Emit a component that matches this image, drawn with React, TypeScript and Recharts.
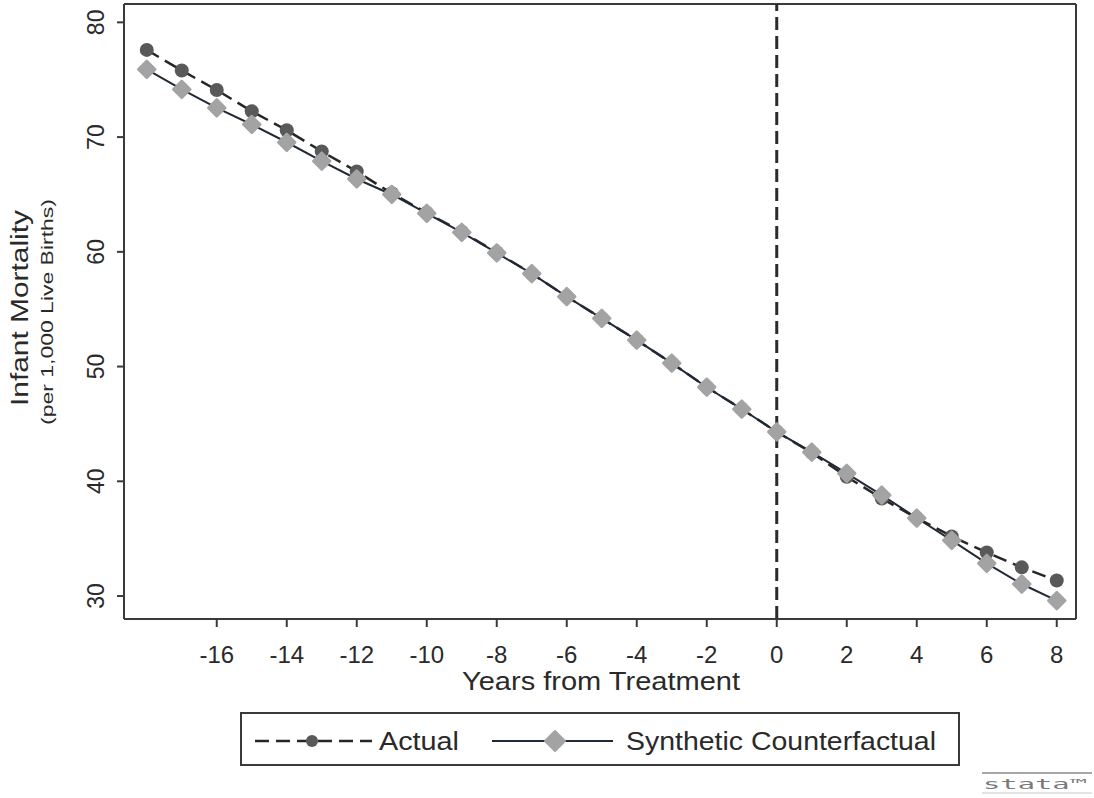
import React from "react";
import {
  LineChart,
  Line,
  XAxis,
  YAxis,
  ReferenceLine,
  Label,
} from "recharts";

// Years relative to treatment
const years: number[] = [
  -18, -17, -16, -15, -14, -13, -12, -11, -10, -9, -8, -7, -6, -5, -4, -3, -2,
  -1, 0, 1, 2, 3, 4, 5, 6, 7, 8,
];

// Infant mortality per 1,000 live births, observed
const actual: number[] = [
  77.6, 75.8, 74.1, 72.25, 70.6, 68.75, 67.0, 65.1, 63.4, 61.75, 59.95, 58.1,
  56.1, 54.2, 52.3, 50.3, 48.2, 46.3, 44.3, 42.5, 40.4, 38.5, 36.8, 35.2, 33.8,
  32.5, 31.35,
];

// Synthetic control estimate
const synthetic: number[] = [
  75.9, 74.15, 72.55, 71.1, 69.55, 67.9, 66.35, 65.0, 63.35, 61.7, 59.9, 58.1,
  56.1, 54.2, 52.3, 50.3, 48.2, 46.3, 44.3, 42.55, 40.7, 38.8, 36.8, 34.85,
  32.85, 31.05, 29.6,
];

const xTicks: number[] = [-16, -14, -12, -10, -8, -6, -4, -2, 0, 2, 4, 6, 8];
const yTicks: number[] = [30, 40, 50, 60, 70, 80];

const data = years.map((year, i) => ({
  year,
  actual: actual[i],
  synthetic: synthetic[i],
}));

const FONT = "'Liberation Sans', Arial, sans-serif";
const TEXT = "#2a2a2a";
const FRAME = "#3a3a3a";
const ACTUAL_DOT = "#595959";
const ACTUAL_LINE = "#262626";
const SYNTH_DOT = "#a3a3a3";
const SYNTH_LINE = "#1f2a36";

const Diamond = (props: any) => {
  const { cx, cy } = props;
  if (cx == null || cy == null) return null;
  const r = 8.5;
  return (
    <polygon
      points={`${cx},${cy - r} ${cx + r},${cy} ${cx},${cy + r} ${cx - r},${cy}`}
      fill={SYNTH_DOT}
      stroke={SYNTH_DOT}
      strokeWidth={2.5}
      strokeLinejoin="round"
    />
  );
};

const Circle = (props: any) => {
  const { cx, cy } = props;
  if (cx == null || cy == null) return null;
  return <circle cx={cx} cy={cy} r={7} fill={ACTUAL_DOT} />;
};

const YTick = (props: any) => {
  const { y, payload } = props;
  return (
    <text
      x={104}
      y={y}
      transform={`rotate(-90, 104, ${y})`}
      textAnchor="middle"
      fontFamily={FONT}
      fontSize={23}
      fill={TEXT}
    >
      {payload.value}
    </text>
  );
};

const XTick = (props: any) => {
  const { x, payload } = props;
  return (
    <text
      x={x}
      y={663}
      textAnchor="middle"
      fontFamily={FONT}
      fontSize={24}
      fill={TEXT}
    >
      {payload.value}
    </text>
  );
};

const YTitle = () => (
  <g>
    <text
      x={28}
      y={308}
      transform="rotate(-90, 28, 308)"
      textAnchor="middle"
      fontFamily={FONT}
      fontSize={23}
      textLength={196}
      lengthAdjust="spacingAndGlyphs"
      fill={TEXT}
    >
      Infant Mortality
    </text>
    <text
      x={53}
      y={312}
      transform="rotate(-90, 53, 312)"
      textAnchor="middle"
      fontFamily={FONT}
      fontSize={17}
      textLength={226}
      lengthAdjust="spacingAndGlyphs"
      fill={TEXT}
    >
      (per 1,000 Live Births)
    </text>
  </g>
);

const XTitle = () => (
  <text
    x={601}
    y={690}
    textAnchor="middle"
    fontFamily={FONT}
    fontSize={25}
    textLength={278}
    lengthAdjust="spacingAndGlyphs"
    fill={TEXT}
  >
    Years from Treatment
  </text>
);

const LegendBox = () => (
  <div
    style={{
      position: "absolute",
      left: 240,
      top: 712,
      width: 720,
      height: 54,
      boxSizing: "border-box",
      border: `2px solid ${FRAME}`,
      background: "#fff",
    }}
  >
    <svg width={716} height={50} style={{ position: "absolute", left: 0, top: 0 }}>
      <line
        x1={13}
        y1={27}
        x2={130}
        y2={27}
        stroke={ACTUAL_LINE}
        strokeWidth={2.5}
        strokeDasharray="14 7"
      />
      <circle cx={70} cy={27} r={6} fill={ACTUAL_DOT} />
      <text
        x={137}
        y={36}
        fontFamily={FONT}
        fontSize={25}
        textLength={80}
        lengthAdjust="spacingAndGlyphs"
        fill={TEXT}
      >
        Actual
      </text>
      <line x1={250} y1={27} x2={371} y2={27} stroke={SYNTH_LINE} strokeWidth={2} />
      <polygon
        points="313,17 323,27 313,37 303,27"
        fill={SYNTH_DOT}
        stroke={SYNTH_DOT}
        strokeWidth={2}
        strokeLinejoin="round"
      />
      <text
        x={384}
        y={36}
        fontFamily={FONT}
        fontSize={25}
        textLength={310}
        lengthAdjust="spacingAndGlyphs"
        fill={TEXT}
      >
        Synthetic Counterfactual
      </text>
    </svg>
  </div>
);

const StataMark = () => (
  <svg
    width={116}
    height={30}
    style={{ position: "absolute", left: 978, top: 766 }}
  >
    <line x1={4} y1={7} x2={114} y2={7} stroke="#8a8a8a" strokeWidth={1.5} />
    <text
      x={5}
      y={23}
      fontFamily="'DejaVu Sans Mono', monospace"
      fontSize={14}
      textLength={104}
      lengthAdjust="spacingAndGlyphs"
      fill="#7a7a7a"
    >
      stata™
    </text>
    <line x1={4} y1={27} x2={114} y2={27} stroke="#c8c8c8" strokeWidth={1} />
  </svg>
);

export default function App() {
  return (
    <div
      style={{
        position: "absolute",
        left: 0,
        top: 0,
        width: 1094,
        height: 798,
        background: "#fff",
        overflow: "hidden",
      }}
    >
      <LineChart
        width={1094}
        height={798}
        data={data}
        margin={{ top: 4, right: 18, bottom: 139, left: 64 }}
      >
        <XAxis
          dataKey="year"
          type="number"
          domain={[-18.65, 8.55]}
          ticks={xTicks}
          allowDataOverflow
          height={40}
          axisLine={{ stroke: FRAME, strokeWidth: 2 }}
          tickLine={{ stroke: FRAME, strokeWidth: 2 }}
          tickSize={8}
          tick={<XTick />}
          interval={0}
        >
          <Label content={<XTitle />} />
        </XAxis>
        <YAxis
          type="number"
          domain={[28, 81.6]}
          ticks={yTicks}
          allowDataOverflow
          width={60}
          axisLine={{ stroke: FRAME, strokeWidth: 2 }}
          tickLine={{ stroke: FRAME, strokeWidth: 2 }}
          tickSize={7}
          tick={<YTick />}
          interval={0}
        >
          <Label content={<YTitle />} />
        </YAxis>
        {/* plot frame: top and right edges */}
        <ReferenceLine y={81.6} stroke={FRAME} strokeWidth={2} ifOverflow="visible" />
        <ReferenceLine x={8.55} stroke={FRAME} strokeWidth={2} ifOverflow="visible" />
        <ReferenceLine
          x={0}
          stroke="#2b2b2b"
          strokeWidth={3}
          strokeDasharray="13 6"
        />
        <Line
          type="linear"
          dataKey="actual"
          stroke={ACTUAL_LINE}
          strokeWidth={2.5}
          strokeDasharray="14 7"
          dot={<Circle />}
          activeDot={false}
          isAnimationActive={false}
        />
        <Line
          type="linear"
          dataKey="synthetic"
          stroke={SYNTH_LINE}
          strokeWidth={2}
          dot={<Diamond />}
          activeDot={false}
          isAnimationActive={false}
        />
      </LineChart>
      <LegendBox />
      <StataMark />
    </div>
  );
}
